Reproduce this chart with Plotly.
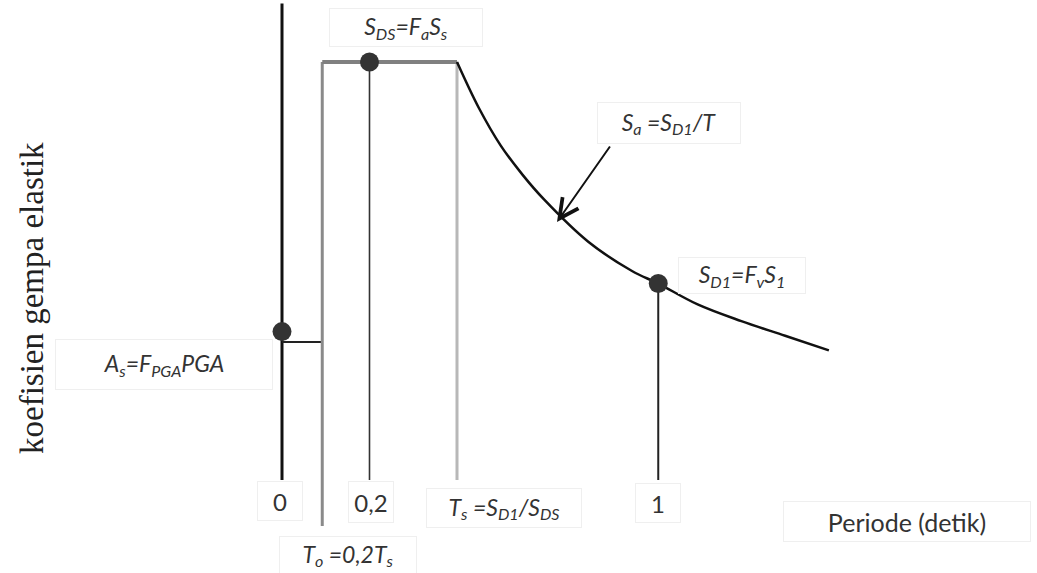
import plotly.graph_objects as go

# ---- schematic values (diagram units) ----
SDS = 1.0          # plateau level
AS = 0.355         # As = FPGA*PGA marker level
AS_STEP = 0.33     # level of short step to T0
T0 = 0.092         # To = 0,2 Ts
T02 = 0.2          # tick "0,2"
TS = 0.40          # Ts = SD1/SDS
T1 = 0.86          # position of tick "1"
SD1_AT_T1 = 0.47   # SD1 point on curve
AXIS_TOP = 1.14
T0_BOTTOM = -0.11

curve_T = [0.40, 0.45, 0.50, 0.55, 0.60, 0.70, 0.80, 0.86, 0.95, 1.05, 1.15, 1.25]
curve_Sa = [1.00, 0.89, 0.80, 0.73, 0.67, 0.57, 0.50, 0.47, 0.42, 0.38, 0.345, 0.31]

fig = go.Figure()

def seg(x, y, color, width):
    fig.add_trace(go.Scatter(x=x, y=y, mode="lines",
                             line=dict(color=color, width=width),
                             hoverinfo="skip", showlegend=False))

# vertical axis
seg([0, 0], [0, AXIS_TOP], "#111111", 3)
# step from axis to T0
seg([0, T0], [AS_STEP, AS_STEP], "#222222", 2)
# T0 vertical
seg([T0, T0], [T0_BOTTOM, SDS], "#8a8a8a", 3)
# 0,2 vertical
seg([T02, T02], [0, SDS], "#333333", 1.6)
# Ts vertical
seg([TS, TS], [0, SDS], "#b8b8b8", 3)
# plateau
seg([T0, TS], [SDS, SDS], "#808080", 4)
# descending curve
fig.add_trace(go.Scatter(x=curve_T, y=curve_Sa, mode="lines",
                         line=dict(color="#111111", width=2.5, shape="spline"),
                         hoverinfo="skip", showlegend=False))
# T=1 vertical
seg([T1, T1], [0, SD1_AT_T1], "#222222", 2)

# markers
fig.add_trace(go.Scatter(x=[0, T02, T1], y=[AS, SDS, SD1_AT_T1], mode="markers",
                         marker=dict(size=19, color="#333333"),
                         hoverinfo="skip", showlegend=False))

font_lbl = dict(family="Lato, Open Sans, sans-serif", size=23, color="#333333")
box = dict(bordercolor="#efefef", borderwidth=1, bgcolor="rgba(255,255,255,0)")

def label(text, x, y, w, h, size=23, italic=True):
    f = dict(font_lbl)
    f["size"] = size
    t = f"<i>{text}</i>" if italic else text
    fig.add_annotation(x=x, y=y, xref="x", yref="y", text=t, showarrow=False,
                       font=f, width=w, height=h, align="center", valign="middle",
                       **box)

def px2x(p):
    return (p - 282) / 437.5

def px2y(p):
    return (480 - p) / 418

label("S<sub>DS</sub>=F<sub>a</sub>S<sub>s</sub>", px2x(406), px2y(27), 150, 35)
label("S<sub>a</sub> =S<sub>D1</sub>/T", px2x(669), px2y(123), 140, 38)
label("S<sub>D1</sub>=F<sub>v</sub>S<sub>1</sub>", px2x(742), px2y(275), 124, 33)
label("A<sub>s</sub>=F<sub>PGA</sub>PGA", px2x(164), px2y(364), 214, 47)
label("0", px2x(280), px2y(501), 42, 36, size=24, italic=False)
label("0,2", px2x(371), px2y(502), 42, 38, size=24, italic=False)
label("T<sub>s</sub> =S<sub>D1</sub>/S<sub>DS</sub>", px2x(504), px2y(508), 152, 36)
label("1", px2x(658), px2y(503), 42, 36, size=24, italic=False)
label("T<sub>o</sub> =0,2T<sub>s</sub>", px2x(348), px2y(555), 134, 34)
label("Periode (detik)", px2x(907), px2y(521), 244, 37, size=25, italic=False)

# arrow to curve
fig.add_annotation(x=px2x(557), y=px2y(222), ax=px2x(611), ay=px2y(145),
                   xref="x", yref="y", axref="x", ayref="y",
                   showarrow=True, arrowhead=5, arrowsize=1.9, arrowwidth=2,
                   arrowcolor="#111111", text="")

# y-axis title
fig.add_annotation(x=px2x(32), y=px2y(298), xref="x", yref="y",
                   text="koefisien gempa elastik", showarrow=False, textangle=-90,
                   font=dict(family="Liberation Serif, DejaVu Serif, serif", size=33,
                             color="#222222"))

fig.update_layout(
    width=1037, height=573,
    margin=dict(l=0, r=0, t=0, b=0),
    paper_bgcolor="white", plot_bgcolor="white",
    xaxis=dict(range=[px2x(0), px2x(1037)], visible=False, fixedrange=True),
    yaxis=dict(range=[px2y(573), px2y(0)], visible=False, fixedrange=True),
    showlegend=False,
)

fig.write_html("out.html", config={"displayModeBar": False},
               post_script="document.body.style.margin='0';document.body.style.overflow='hidden';")
